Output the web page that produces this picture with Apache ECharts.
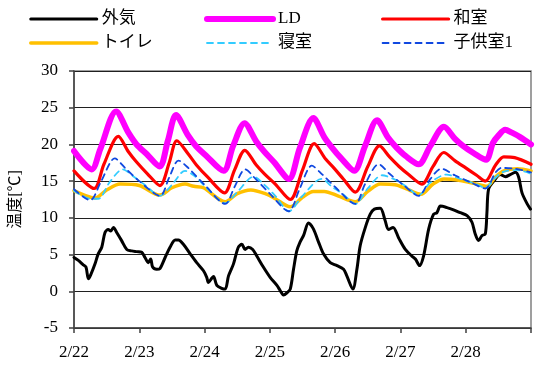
<!DOCTYPE html>
<html><head><meta charset="utf-8">
<script src="https://cdn.jsdelivr.net/npm/echarts@6/dist/echarts.min.js"></script>
<style>html,body{margin:0;padding:0;background:#fff}#c{width:539px;height:365px}</style>
</head><body><div id="c"></div>
<script>
// x = hours since 2/22 00:00
const dayLabels = ['2/22','2/23','2/24','2/25','2/26','2/27','2/28'];
const yTicks = [-5,0,5,10,15,20,25,30];

const outdoorHours = [0,1.6,3.4,4.4,5.3,6.1,7.7,8.9,10.2,11.4,12.6,13.5,14.5,15.7,17.5,19.4,21.2,23.1,24.9,26.1,27.3,28.2,28.9,30.4,31.6,33.5,35.3,37.2,38.4,40.2,42.7,45.1,47.6,48.8,49.4,50.7,51.3,52.5,54.3,55.6,56.8,58.6,60.4,61.7,62.9,64.1,65.7,67.2,69.6,72.1,74.6,75.8,77,78.3,79.5,80.7,81.9,83.1,84.4,86.2,88,89.9,91.7,94.2,96.7,99.1,100.3,102.5,104,105.2,107.1,108.9,110.4,112.6,114.4,115.6,117.3,119.3,121.8,124.2,125.5,127,128.5,130.4,132.2,133.4,134.7,137.1,139.5,142,144.5,146.3,147.5,148.7,150,151.2,151.8,152.4,154.3,156.7,158.6,160.4,162.3,163.5,164.7,166.6,167.8];
const outdoorTemp = [4.6,4.2,3.6,3.3,1.7,2.2,3.7,5.1,6.0,8.0,8.4,8.2,8.7,8.0,6.9,5.7,5.5,5.4,5.3,4.6,3.9,4.4,3.3,3.0,3.1,4.6,6.0,7.0,7.0,6.4,5.1,3.9,2.8,1.9,1.2,1.8,2.0,0.8,0.4,0.3,2.1,3.7,6.0,6.4,5.7,6.0,5.7,4.8,3.3,1.9,0.8,0.1,-0.5,-0.2,0.3,3.0,5.5,6.7,7.6,9.3,8.5,6.7,5.1,3.9,3.5,3.0,2.1,0.3,3.0,6.2,8.7,10.5,11.2,11.3,9.6,8.4,8.7,7.3,5.7,4.8,4.4,3.5,4.8,8.5,10.5,10.7,11.6,11.4,11.1,10.7,10.3,9.4,7.8,6.9,7.6,7.8,10.7,13.9,15.0,15.9,15.6,15.9,16.2,15.5,13.4,11.9,11.2];

const ldHours = [0,6.5,9.6,15.5,20,23,26.7,31.5,34.5,37.5,41.8,44.8,48.5,55,58.5,62.7,67,70,73.5,79,83,88,92,95,98,103,107,111.4,115.5,118.5,122,126.7,131,136,140,143,147,151.5,154,156,158.5,161,164,168];
const ldTemp = [19.1,16.6,19.3,24.5,21.6,20.0,18.7,17.0,20.5,24.0,21.3,19.8,18.5,16.4,19.8,22.9,20.4,19.0,17.6,15.3,19.5,23.6,21.0,19.5,18.2,16.4,19.8,23.3,20.9,19.6,18.4,17.3,19.8,22.4,20.8,19.8,18.8,17.9,20.2,21.2,22.0,21.6,21.0,20.0];

const washHours = [0,7.4,11,16.3,20,23,27,31.6,35,37.8,42,45,49,55.3,59,62.8,67,70,74,79.5,84,88.3,92.5,95.5,99,103.4,108,112.3,116,119.5,123,127.9,132,135.9,140,144,148,151.2,155,158,162,168];
const washTemp = [16.4,14.0,17.3,21.1,19.0,17.6,16.0,14.4,17.5,20.5,18.7,17.2,15.6,13.4,16.5,19.2,17.2,16.0,14.6,12.5,16.5,20.1,18.0,16.8,15.3,13.5,17.0,19.8,18.3,17.0,15.9,14.6,17.0,18.9,17.8,16.8,15.8,15.0,17.2,18.3,18.2,17.3];

const toiletHours = [0,7.7,12,17,24,31.6,36,40.8,44,47.6,55.6,60,65,71,74,79.5,84,88,92,97,103.4,108,112.6,118,122,127.5,132,136,142,147,151.8,155,158,163,168];
const toiletTemp = [13.7,12.7,13.8,14.6,14.4,13.1,14.1,14.6,14.3,14.1,12.2,13.3,13.8,13.2,12.6,11.5,12.8,13.6,13.6,13.0,12.2,13.6,14.6,14.5,14.0,13.2,14.6,15.3,15.1,14.7,14.3,15.6,16.4,16.7,16.4];

const bedHours = [0,3,6,9,13,17.9,22,26,31.6,36,40.8,44,49,55.6,60,66,70,74,79,84,91,95,99,103.4,108,113.2,118,122,126.7,131,137,142,147,151.2,155,158,163,168];
const bedTemp = [13.7,13.0,12.6,12.6,14.8,16.6,15.6,14.5,13.0,14.5,16.4,15.8,14.0,12.0,13.5,15.6,14.5,13.0,10.9,13.0,15.3,14.2,13.2,11.9,14.0,15.8,15.2,14.3,13.1,14.8,15.9,15.3,14.7,14.1,15.5,16.3,16.5,16.0];

const kidsHours = [0,5.9,10,15,19,24,31.6,35,38.4,42,48,55.6,59,62.9,67,72,78.9,83,87.4,91,96,103.4,107,112,116,121,126.7,131,135,140,146,151.2,155,157,162,168];
const kidsTemp = [13.9,12.4,15.0,18.1,16.7,15.0,13.0,15.5,17.8,16.8,14.5,11.9,14.2,16.6,15.2,13.3,10.9,14.0,17.1,16.0,14.2,11.9,14.6,17.3,16.0,14.5,13.0,15.3,16.7,15.8,14.8,14.0,16.2,16.8,16.7,16.2];

const pairs = (h, v) => h.map((x, i) => [x, v[i]]);
const serif = "'Liberation Serif','Times New Roman','Noto Sans CJK JP',serif";
const styles = {
  '外気':   { color: '#000000', width: 3,   dash: false },
  'LD':     { color: '#ff00ff', width: 6,   dash: false },
  '和室':   { color: '#ff0000', width: 3.2, dash: false },
  'トイレ': { color: '#ffc000', width: 3.5, dash: false },
  '寝室':   { color: '#33ccff', width: 1.8, dash: true },
  '子供室1': { color: '#1048e0', width: 1.8, dash: true }
};
const lineOf = n => ({ color: styles[n].color, width: styles[n].width, type: styles[n].dash ? [6, 5] : 'solid', cap: 'round', join: 'round' });
const mk = (name, h, v) => ({
  name, type: 'line', data: pairs(h, v), symbol: 'none', smooth: 0.3,
  lineStyle: lineOf(name),
  itemStyle: { color: styles[name].color }
});
const legItem = n => ({ name: n, itemStyle: { opacity: 0 }, lineStyle: Object.assign(lineOf(n), { cap: 'round' }) });

const chart = echarts.init(document.getElementById('c'));
const legendBase = {
  orient: 'vertical', top: 4, itemWidth: 66, itemHeight: 14, itemGap: 4,
  itemStyle: { opacity: 0 },
  textStyle: { fontFamily: serif, fontSize: 17, color: '#000', lineHeight: 20 }
};
chart.setOption({
  animation: false,
  backgroundColor: '#fff',
  legend: [
    Object.assign({}, legendBase, { left: 24, data: [legItem('外気'), legItem('トイレ')] }),
    Object.assign({}, legendBase, { left: 199, data: [legItem('LD'), legItem('寝室')] }),
    Object.assign({}, legendBase, { left: 376, data: [legItem('和室'), legItem('子供室1')] })
  ],
  grid: { left: 74, right: 8, top: 71, bottom: 37, show: true, borderColor: '#808080', borderWidth: 1.5 },
  xAxis: {
    type: 'value', min: 0, max: 168, interval: 24,
    axisLine: { show: true, onZero: false, lineStyle: { color: '#404040', width: 1.5 } },
    axisTick: { show: true, inside: false, length: 5, lineStyle: { color: '#404040', width: 1.5 } },
    axisLabel: { formatter: v => dayLabels[Math.round(v / 24)] || '', fontFamily: serif, fontSize: 17, color: '#000', margin: 16 },
    splitLine: { show: false }
  },
  yAxis: {
    type: 'value', min: yTicks[0], max: yTicks[yTicks.length - 1], interval: 5,
    name: '温度[℃]', nameLocation: 'middle', nameGap: 50,
    nameTextStyle: { fontFamily: serif, fontSize: 16, color: '#000' },
    axisLine: { show: true, lineStyle: { color: '#404040', width: 1.5 } },
    axisTick: { show: true, inside: false, length: 5, lineStyle: { color: '#404040', width: 1.5 } },
    axisLabel: { fontFamily: serif, fontSize: 17, color: '#000', margin: 16 },
    splitLine: { show: true, lineStyle: { color: '#202020', width: 1 } }
  },
  series: [
    mk('外気', outdoorHours, outdoorTemp),
    mk('LD', ldHours, ldTemp),
    mk('和室', washHours, washTemp),
    mk('トイレ', toiletHours, toiletTemp),
    mk('寝室', bedHours, bedTemp),
    mk('子供室1', kidsHours, kidsTemp)
  ]
});
</script></body></html>
